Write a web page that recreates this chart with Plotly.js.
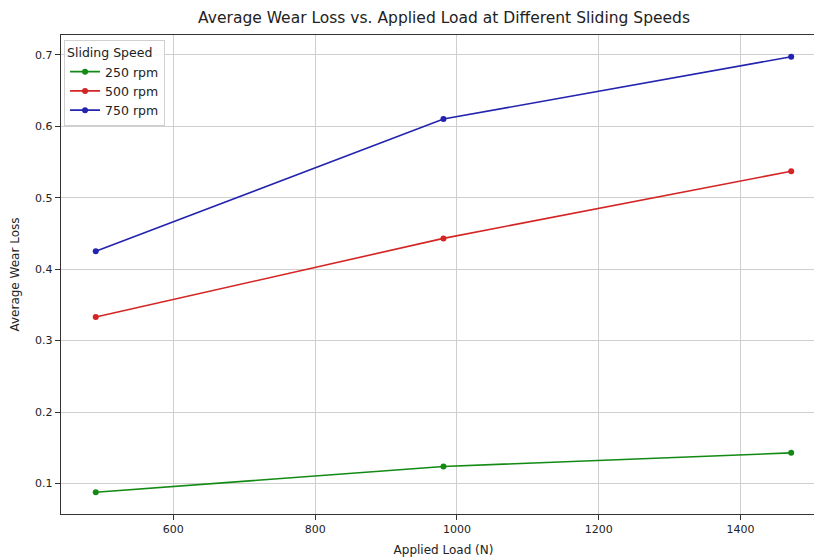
<!DOCTYPE html>
<html>
<head>
<meta charset="utf-8">
<script src="https://cdn.plot.ly/plotly-3.0.1.min.js"></script>
<style>
html,body{margin:0;padding:0;overflow:hidden;background:#fff;}
#chart{width:830px;height:559px;}
</style>
</head>
<body>
<div id="chart"></div>
<script>
const loads = [490.5, 981, 1471.5];
const seriesNames = ['250 rpm', '500 rpm', '750 rpm'];
const wear250 = [0.088, 0.124, 0.143];
const wear500 = [0.333, 0.443, 0.537];
const wear750 = [0.425, 0.610, 0.697];
const colors = ['#138a13', '#d42424', '#2323b0'];

const seriesValues = [wear250, wear500, wear750];
const traces = seriesValues.map((vals, i) => ({
  x: loads,
  y: vals,
  name: seriesNames[i],
  type: 'scatter',
  mode: 'lines+markers',
  line: {color: colors[i], width: 1.6},
  marker: {color: colors[i], size: 6}
}));

const axisFont = {family: 'DejaVu Sans', size: 11, color: '#222'};
const layout = {
  width: 830,
  height: 559,
  margin: {l: 61, r: 4, t: 35, b: 45},
  paper_bgcolor: '#fff',
  plot_bgcolor: '#fff',
  font: {family: 'DejaVu Sans', color: '#222'},
  title: {
    text: 'Average Wear Loss vs. Applied Load at Different Sliding Speeds',
    font: {family: 'DejaVu Sans', size: 15.5, color: '#222'},
    x: 0.535, xanchor: 'center', y: 0.968, yanchor: 'middle'
  },
  xaxis: {
    range: [441.5, 1520.6],
    dtick: 200, tick0: 0,
    showgrid: true, gridcolor: '#cfcfcf', gridwidth: 1,
    zeroline: false,
    showline: true, mirror: true, linecolor: '#333', linewidth: 1.2,
    ticks: 'outside', ticklen: 5, tickcolor: '#333',
    tickfont: axisFont,
    title: {text: 'Applied Load (N)', font: {family: 'DejaVu Sans', size: 12, color: '#222'}, standoff: 10}
  },
  yaxis: {
    range: [0.0575, 0.7275],
    dtick: 0.1, tick0: 0, tickformat: '.1f',
    showgrid: true, gridcolor: '#cfcfcf', gridwidth: 1,
    zeroline: false,
    showline: true, mirror: true, linecolor: '#333', linewidth: 1.2,
    ticks: 'outside', ticklen: 5, tickcolor: '#333',
    tickfont: axisFont,
    title: {text: 'Average Wear Loss', font: {family: 'DejaVu Sans', size: 12, color: '#222'}, standoff: 12}
  },
  legend: {
    title: {text: 'Sliding Speed', font: {family: 'DejaVu Sans', size: 12.5, color: '#222'}},
    x: 0.004, y: 0.99, xanchor: 'left', yanchor: 'top',
    bgcolor: 'rgba(255,255,255,0.85)',
    bordercolor: '#d0d0d0', borderwidth: 1,
    font: {family: 'DejaVu Sans', size: 12.5, color: '#222'},
    itemwidth: 30,
    tracegroupgap: 0
  },
  showlegend: true
};

Plotly.newPlot('chart', traces, layout, {displayModeBar: false, staticPlot: true});
</script>
</body>
</html>
